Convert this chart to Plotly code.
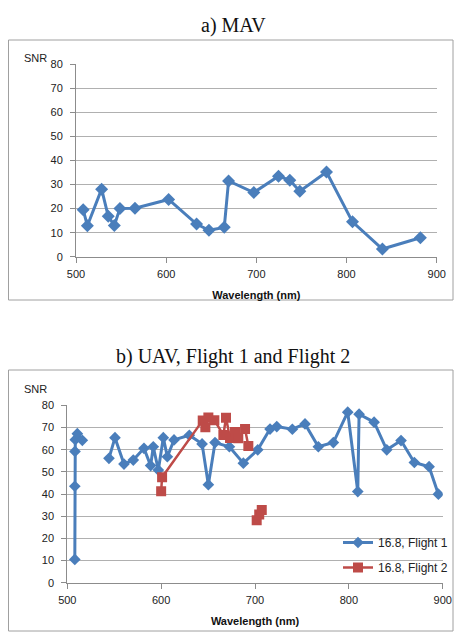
import plotly.graph_objects as go

W, H = 456, 635

# ---- Data: a) MAV ----
mav_wl = [508, 512.6, 528.4, 535.8, 542.5, 548.7, 565.4, 602.7, 633.7, 647.4, 664.4,
          669.2, 697.2, 724.6, 737.1, 748.2, 777.8, 806.6, 839.8, 881.9]
mav_snr = [19.5, 12.9, 28.1, 16.8, 13.0, 20.1, 20.2, 23.8, 13.6, 11.0, 12.2,
           31.5, 26.7, 33.5, 31.8, 27.2, 35.2, 14.5, 3.2, 7.9]

# ---- Data: b) UAV Flight 1 ----
f1_wl = [508.0, 508.0, 508.2, 508.5, 510.7, 516.0, None,
         544.4, 550.8, 560.4, 570.3, 581.7, 588.8, 591.6, 597.0, 602.3, 606.6, 613.7,
         630.0, 643.6, 650.3, 657.4, 672.7, 687.6, 702.9, 716.0, 723.2, 739.8, 753.3,
         767.5, 783.5, 798.8, 809.5, 810.9, 826.9, 840.4, 855.6, 869.8, 885.5, 895.4]
f1_snr = [10.5, 43.5, 59.2, 64.5, 67.2, 64.2, None,
          56.1, 65.4, 53.5, 55.3, 60.6, 52.8, 61.3, 50.8, 65.4, 56.8, 64.4,
          66.5, 62.6, 44.2, 63.2, 61.3, 53.9, 59.9, 69.3, 70.4, 69.2, 71.6,
          61.3, 63.2, 76.9, 41.1, 76.0, 72.4, 59.9, 64.1, 54.2, 52.3, 39.9]

# ---- Data: b) UAV Flight 2 ----
f2_wl = [600.0, 601.0, 644.3, 647.1, 650.3, 656.7, 666.3, 669.1, 673.4, 678.7, 682.2,
         689.4, 692.9, None, 701.8, 704.5, 707.2]
f2_snr = [41.2, 47.6, 73.2, 70.1, 74.5, 73.3, 66.6, 74.4, 65.2, 68.0, 65.1,
          69.3, 61.7, None, 28.2, 30.8, 32.8]

x_ticks = [500, 600, 700, 800, 900]
y_ticks = [0, 10, 20, 30, 40, 50, 60, 70, 80]

BLUE = "#4A7EBB"
RED = "#BE4B48"
GRID = "#B0B0B0"
AX = "#8C8C8C"
TICKFONT = dict(family="Liberation Sans", size=11, color="#222")


def px_x(p):
    return p / W


def px_y(p):
    return 1 - p / H


fig = go.Figure()
fig.add_trace(go.Scatter(x=mav_wl, y=mav_snr, mode="lines+markers",
                         line=dict(color=BLUE, width=3),
                         marker=dict(symbol="diamond", size=10, color=BLUE),
                         xaxis="x", yaxis="y", showlegend=False))
fig.add_trace(go.Scatter(x=f1_wl, y=f1_snr, mode="lines+markers", name="16.8, Flight 1",
                         line=dict(color=BLUE, width=3), connectgaps=False,
                         marker=dict(symbol="diamond", size=9, color=BLUE),
                         xaxis="x2", yaxis="y2", legendgroup="g1"))
fig.add_trace(go.Scatter(x=f2_wl, y=f2_snr, mode="lines+markers", name="16.8, Flight 2",
                         line=dict(color=RED, width=2.5), connectgaps=False,
                         marker=dict(symbol="square", size=10, color=RED),
                         xaxis="x2", yaxis="y2", legendgroup="g2"))

xcommon = dict(range=[500, 900], tickvals=x_ticks, showgrid=False, showline=True,
               linecolor=AX, linewidth=1, ticks="outside", ticklen=5, tickcolor=AX,
               tickfont=TICKFONT, zeroline=False, fixedrange=True, automargin=False,
               ticklabelstandoff=2)
ycommon = dict(range=[0, 80], tickvals=y_ticks, showgrid=True, gridcolor=GRID, gridwidth=1.3,
               showline=True, linecolor=AX, linewidth=1, ticks="outside", ticklen=5,
               tickcolor=AX, tickfont=TICKFONT, zeroline=False, fixedrange=True,
               automargin=False, ticklabelstandoff=5)

title_font = dict(family="Liberation Sans", size=11, color="#111")

fig.update_layout(
    width=W, height=H, margin=dict(l=0, r=0, t=0, b=0, autoexpand=False),
    paper_bgcolor="white", plot_bgcolor="white",
    xaxis=dict(domain=[px_x(76), px_x(436.7)], anchor="y",
               title=dict(text="<b>Wavelength (nm)</b>", font=title_font, standoff=12), **xcommon),
    yaxis=dict(domain=[px_y(256.7), px_y(64.4)], anchor="x", **ycommon),
    xaxis2=dict(domain=[px_x(67.3), px_x(442.7)], anchor="y2",
                title=dict(text="<b>Wavelength (nm)</b>", font=title_font, standoff=12), **xcommon),
    yaxis2=dict(domain=[px_y(582.7), px_y(405.3)], anchor="x2", **ycommon),
    legend=dict(x=px_x(338), y=px_y(528), xanchor="left", yanchor="top",
                bgcolor="rgba(0,0,0,0)", font=dict(family="Liberation Sans", size=12, color="#222"),
                tracegroupgap=6),
    shapes=[
        dict(type="rect", xref="paper", yref="paper", x0=px_x(8.5), x1=px_x(453),
             y0=px_y(300), y1=px_y(40), line=dict(color="#A0A0A0", width=1)),
        dict(type="rect", xref="paper", yref="paper", x0=px_x(8.5), x1=px_x(453),
             y0=px_y(631), y1=px_y(370), line=dict(color="#A0A0A0", width=1)),
    ],
    annotations=[
        dict(text="a) MAV", xref="paper", yref="paper", x=px_x(233), y=px_y(25),
             xanchor="center", yanchor="middle", showarrow=False,
             font=dict(family="Liberation Serif", size=20, color="#111")),
        dict(text="b) UAV, Flight 1 and Flight 2", xref="paper", yref="paper", x=px_x(233),
             y=px_y(356.5), xanchor="center", yanchor="middle", showarrow=False,
             font=dict(family="Liberation Serif", size=20, color="#111")),
        dict(text="SNR", xref="paper", yref="paper", x=px_x(35), y=px_y(57.5),
             xanchor="center", yanchor="middle", showarrow=False,
             font=dict(family="Liberation Sans", size=11, color="#222")),
        dict(text="SNR", xref="paper", yref="paper", x=px_x(35), y=px_y(388.5),
             xanchor="center", yanchor="middle", showarrow=False,
             font=dict(family="Liberation Sans", size=11, color="#222")),
    ],
)

fig.write_html("out.html", config={"displayModeBar": False},
               post_script="document.body.style.margin='0';")
